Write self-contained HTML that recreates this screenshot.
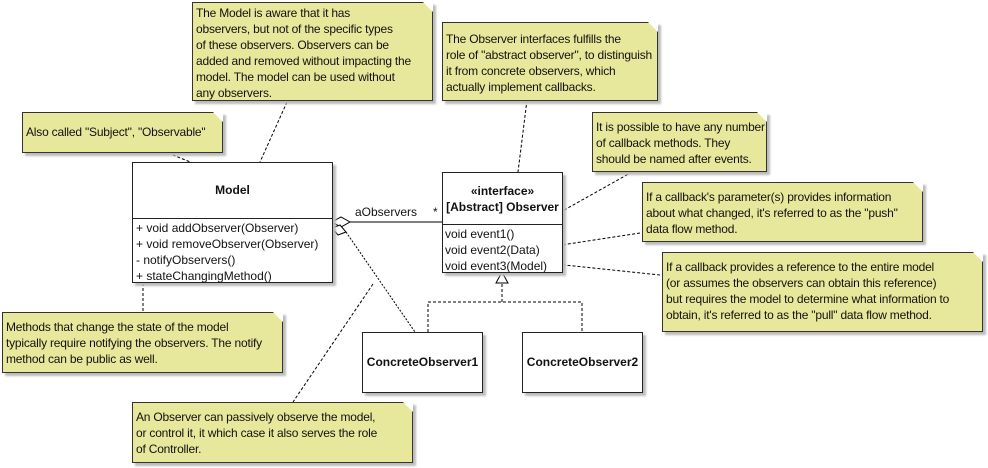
<!DOCTYPE html>
<html><head><meta charset="utf-8"><style>
body{margin:0;width:988px;height:468px;background:#fff;position:relative;overflow:hidden;font-family:"Liberation Sans",sans-serif;font-size:12px;color:#111}
.n{position:absolute;background:#e8e89c;border:1px solid #333;box-shadow:3px 3px 2px #bbb;padding:2px 3px;line-height:16px;white-space:pre;box-sizing:border-box;letter-spacing:-0.2px}
.n:after{content:"";position:absolute;right:-1px;top:-1px;width:0;height:0;border-top:10px solid #fff;border-left:10px solid transparent}
.c{position:absolute;background:#fff;border:1px solid #222;box-shadow:3px 3px 2px #bbb;box-sizing:border-box}
.b{font-weight:bold;text-align:center}
.t{position:absolute;white-space:pre;line-height:16px}
svg{position:absolute;left:0;top:0}
</style></head><body>
<svg width="988" height="468">
<g stroke="#000" fill="none" stroke-dasharray="3,2">
<line x1="287" y1="102" x2="260" y2="162"/>
<line x1="168" y1="153" x2="205" y2="168"/>
<line x1="527" y1="100" x2="518" y2="172"/>
<line x1="632" y1="172" x2="525" y2="232"/>
<line x1="640" y1="233" x2="555" y2="246"/>
<line x1="660" y1="275" x2="555" y2="264"/>
<line x1="143" y1="283" x2="143" y2="312"/>
<line x1="373" y1="284" x2="293" y2="402"/>
<polyline points="428,332 428,302 582,302 582,332"/>
<line x1="502" y1="302" x2="502" y2="283"/>
<line x1="346" y1="232" x2="415" y2="332" stroke-dasharray="2,1.5"/>
</g>
<g stroke="#000" fill="none">
<line x1="350" y1="222" x2="442" y2="222"/>
<polygon points="332,222 341,217 350,222 341,227" fill="#fff"/>
<polygon points="332,228 340,225 346,232 338,235" fill="#fff"/>
<polygon points="502,272 496,283 508,283" fill="#fff"/>
</g>
</svg>
<div class="n" style="left:192px;top:2px;width:241px;height:99px">The Model is aware that it has
observers, but not of the specific types
of these observers. Observers can be
added and removed without impacting the
model. The model can be used without
any observers.</div>
<div class="n" style="left:442px;top:22px;width:216px;height:79px;padding-top:8px">The Observer interfaces fulfills the
role of "abstract observer", to distinguish
it from concrete observers, which
actually implement callbacks.</div>
<div class="n" style="left:22px;top:112px;width:201px;height:41px;padding-top:11px">Also called "Subject", "Observable"</div>
<div class="n" style="left:592px;top:112px;width:175px;height:60px;padding-top:6px">It is possible to have any number
of callback methods. They
should be named after events.</div>
<div class="n" style="left:642px;top:182px;width:281px;height:60px;padding-top:6px">If a callback's parameter(s) provides information
about what changed, it's referred to as the "push"
data flow method.</div>
<div class="n" style="left:662px;top:252px;width:321px;height:80px;padding-top:6px">If a callback provides a reference to the entire model
(or assumes the observers can obtain this reference)
but requires the model to determine what information to
obtain, it's referred to as the "pull" data flow method.</div>
<div class="n" style="left:2px;top:312px;width:281px;height:61px;padding-top:6px">Methods that change the state of the model
typically require notifying the observers. The notify
method can be public as well.</div>
<div class="n" style="left:132px;top:402px;width:281px;height:61px;padding-top:6px">An Observer can passively observe the model,
or control it, it which case it also serves the role
of Controller.</div>
<div class="c" style="left:132px;top:162px;width:201px;height:121px">
<div class="b" style="position:absolute;left:0;right:0;top:20px">Model</div>
<div style="position:absolute;left:0;right:0;top:55px;border-top:1px solid #222"></div>
<div class="t" style="left:3px;top:57px">+ void addObserver(Observer)
+ void removeObserver(Observer)
- notifyObservers()
+ stateChangingMethod()</div></div>
<div class="c" style="left:442px;top:172px;width:121px;height:101px">
<div class="b" style="position:absolute;left:0;right:0;top:10px;line-height:16px">«interface»<br>[Abstract] Observer</div>
<div style="position:absolute;left:0;right:0;top:51px;border-top:1px solid #222"></div>
<div class="t" style="left:2px;top:53px">void event1()
void event2(Data)
void event3(Model)</div></div>
<div class="c b" style="left:362px;top:332px;width:121px;height:61px;line-height:59px">ConcreteObserver1</div>
<div class="c b" style="left:522px;top:332px;width:121px;height:61px;line-height:59px">ConcreteObserver2</div>
<div class="t" style="left:355px;top:204px">aObservers</div>
<div class="t" style="left:433px;top:204px">*</div>
</body></html>
